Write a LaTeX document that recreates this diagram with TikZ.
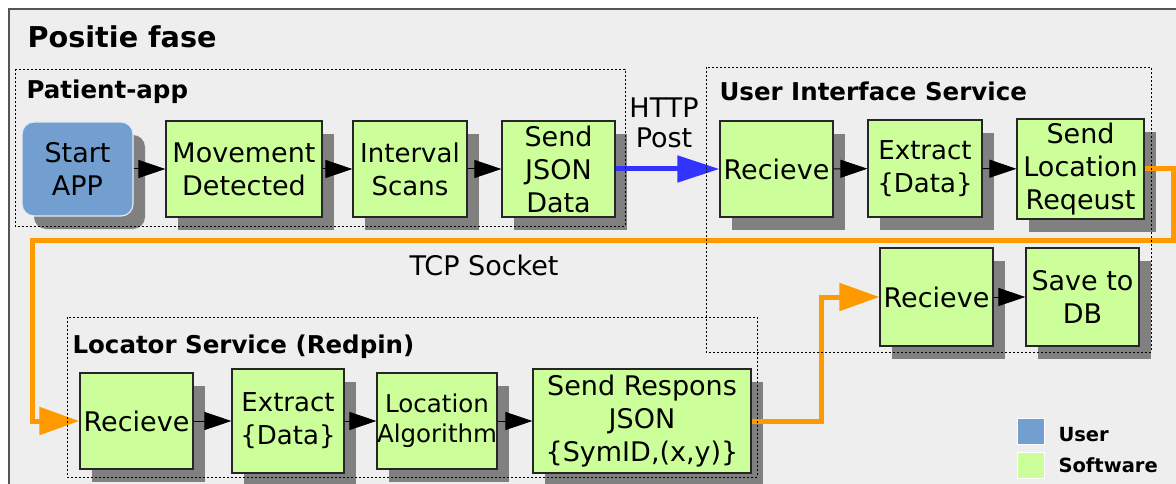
\documentclass[tikz,border=0pt]{standalone}
\usepackage{fontspec}
\setmainfont{DejaVu Sans}
\usetikzlibrary{arrows.meta,shadows}
\definecolor{bg}{HTML}{EEEEEE}
\definecolor{swgreen}{HTML}{CCFF99}
\definecolor{userblue}{HTML}{729FCF}
\definecolor{flow}{HTML}{FF9900}
\definecolor{post}{HTML}{3333FF}
\definecolor{shade}{HTML}{808080}
\definecolor{frameline}{HTML}{555555}
\tikzset{
  boxshadow/.style={general shadow={fill=shade, shadow xshift=12pt, shadow yshift=-13pt}},
  proc/.style={draw=black!85, line width=1.2pt, fill=swgreen, align=center,
    inner sep=0pt, font=\fontsize{27}{33}\selectfont, boxshadow},
  userbox/.style={proc, fill=userblue, draw=white!80!userblue, rounded corners=12pt},
  step arrow/.style={line width=1pt, -{Triangle[length=27pt,width=18pt]}},
  tcp/.style={draw=flow, line width=5pt, -{Triangle[length=40pt,width=27pt]}},
  http/.style={draw=post, line width=5pt, -{Triangle[length=42pt,width=26pt]}},
  group/.style={draw=black, line width=0.8pt, dash pattern=on 2pt off 2pt},
  heading/.style={anchor=base west, font=\bfseries\fontsize{24.5}{28}\selectfont},
  label/.style={align=center, inner sep=0pt, font=\fontsize{27}{30}\selectfont},
  swatch/.style={draw=white, line width=0.8pt, minimum width=27pt, minimum height=26pt, inner sep=0pt},
  legendtext/.style={anchor=base west, font=\bfseries\fontsize{19.5}{22}\selectfont}
}
\begin{document}
\begin{tikzpicture}[x=1pt,y=-1pt]
\useasboundingbox (0,0) rectangle (1176,484);
\begin{scope}
\clip (0,0) rectangle (1176,484);
\fill[white] (0,0) rectangle (1176,484);
\draw[draw=frameline, line width=1.3pt, fill=bg] (9,9) rectangle (1200,510);

% phase title and group headings
\node[heading, font=\bfseries\fontsize{28.7}{32}\selectfont] (title) at (24,48) {Positie fase};
\node[heading] (hpatient) at (23,99) {Patient-app};
\node[heading] (hui) at (716,101) {User Interface Service};
\node[heading] (hloc) at (69,353) {Locator Service (Redpin)};

% patient app
\node[userbox, minimum width=111pt, minimum height=94pt] (start) at (77.5,169) {Start\\APP};
\node[proc, minimum width=156pt, minimum height=96pt] (move) at (244,169) {Movement\\Detected};
\node[proc, minimum width=114pt, minimum height=96pt, font=\fontsize{26}{33}\selectfont] (scan) at (410,169) {Interval\\Scans};
\node[proc, minimum width=113pt, minimum height=96pt] (json) at (558.5,169) {Send\\JSON\\Data};

% user interface service
\node[proc, minimum width=113pt, minimum height=96pt] (uirecv) at (776.5,169) {Recieve};
\node[proc, minimum width=114pt, minimum height=97pt, font=\fontsize{26}{33}\selectfont] (uiext) at (925,168.5) {Extract\\\{Data\}};
\node[proc, minimum width=127pt, minimum height=100pt] (uireq) at (1080.5,169) {Send\\Location\\Reqeust};
\node[proc, minimum width=113pt, minimum height=98pt] (uirecv2) at (936.5,297) {Recieve};
\node[proc, minimum width=113pt, minimum height=98pt] (uisave) at (1082.5,297) {Save to\\DB};

% locator service
\node[proc, minimum width=113pt, minimum height=96pt] (lrecv) at (136.5,421) {Recieve};
\node[proc, minimum width=112pt, minimum height=104pt, font=\fontsize{26}{33}\selectfont] (lext) at (288,421) {Extract\\\{Data\}};
\node[proc, minimum width=118pt, minimum height=96pt, font=\fontsize{24.5}{30}\selectfont] (lalg) at (437,421) {Location\\Algorithm};
\node[proc, minimum width=218pt, minimum height=104pt] (lresp) at (642,421) {Send Respons\\JSON\\\{SymID,(x,y)\}};

% steps inside each part
\draw[step arrow] (start) -- (move);
\draw[step arrow] (move) -- (scan);
\draw[step arrow] (scan) -- (json);
\draw[step arrow] (uirecv) -- (uiext);
\draw[step arrow] (uiext) -- (uireq);
\draw[step arrow] (uirecv2) -- (uisave);
\draw[step arrow] (lrecv) -- (lext);
\draw[step arrow] (lext) -- (lalg);
\draw[step arrow] (lalg) -- (lresp);

% HTTP post
\draw[http] (json) -- (uirecv);
\node[label] (httplbl) at (664,123) {HTTP\\Post};

% TCP socket connections
\coordinate (tcpR) at (1173,240);
\coordinate (tcpL) at (32,421);
\coordinate (tcpUp) at (821,297);
\draw[tcp] (uireq.east) -| (tcpR) -| (tcpL) -- (lrecv.west);
\draw[tcp] (lresp.east) -| (tcpUp) -- (uirecv2.west);
\node[label, anchor=base] (tcplbl) at (484,275) {TCP Socket};

% group frames
\draw[group] (15,69) rectangle (625,226);
\draw[group] (706,67) rectangle (1151,352);
\draw[group] (67,317) rectangle (757,477);

% legend
\node[swatch, fill=userblue] (lguser) at (1030.5,431) {};
\node[swatch, fill=swgreen] (lgsoft) at (1030.5,465) {};
\node[legendtext] (lgusertxt) at (1055,441) {User};
\node[legendtext] (lgsofttxt) at (1055,472) {Software};
\end{scope}
\end{tikzpicture}
\end{document}
